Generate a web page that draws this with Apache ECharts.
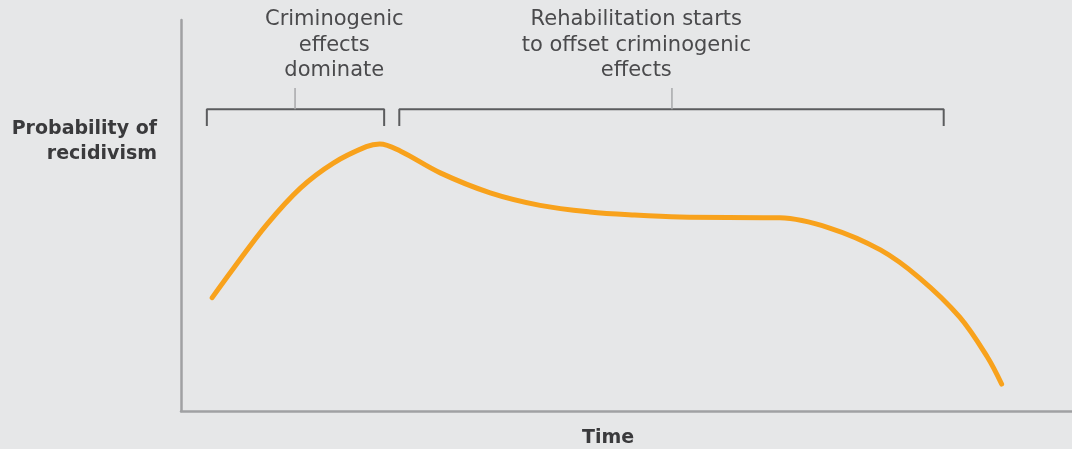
<!DOCTYPE html>
<html>
<head>
<meta charset="utf-8">
<script src="https://cdn.jsdelivr.net/npm/echarts@6/dist/echarts.min.js"></script>
<style>
html,body{margin:0;padding:0;background:#e6e7e8;}
#chart{width:1072px;height:449px;}
</style>
</head>
<body>
<div id="chart"></div>
<script>
// Curve: time (0-100) vs probability of recidivism (0-100)
const timeVals = [3.5, 5.9, 9.6, 13.4, 17.1, 20.8, 22.3, 24.6, 29.1, 34.7, 40.3, 45.9, 50.9, 56.0, 67.2, 72.8, 78.5, 82.9, 87.4, 90.5, 92.1];
const probVals = [29.0, 36.5, 47.6, 57.0, 63.4, 67.6, 68.3, 66.5, 60.9, 55.8, 52.6, 50.9, 50.1, 49.6, 49.4, 46.8, 41.2, 34.0, 24.0, 13.8, 6.9];

// Brackets (x ranges in time units) and their annotation texts
const bracketStart = [2.9, 24.5];
const bracketEnd = [22.8, 85.6];
const bracketMid = [12.8, 55.1];
const bracketLabels = ['Criminogenic\neffects\ndominate', 'Rehabilitation starts\nto offset criminogenic\neffects'];
const labelCenter = [17.2, 51.1];
const bracketTopY = 77.2;
const bracketFootY = 72.9;
const midTickTopY = 82.6;

const xAxisTitle = 'Time';
const yAxisTitle = 'Probability of\nrecidivism';

const chart = echarts.init(document.getElementById('chart'));
const curveData = timeVals.map((t, i) => [t, probVals[i]]);

const series = [{
  type: 'line',
  data: curveData,
  smooth: 0.35,
  showSymbol: false,
  silent: true,
  lineStyle: { color: '#f8a21c', width: 5, cap: 'round' },
  z: 5
}];
bracketStart.forEach((s, i) => {
  series.push({
    type: 'line',
    data: [[s, bracketFootY], [s, bracketTopY], [bracketEnd[i], bracketTopY], [bracketEnd[i], bracketFootY]],
    showSymbol: false, silent: true,
    lineStyle: { color: '#5b5c5e', width: 2 }
  });
  series.push({
    type: 'line',
    data: [[bracketMid[i], bracketTopY], [bracketMid[i], midTickTopY]],
    showSymbol: false, silent: true,
    lineStyle: { color: '#a7a8aa', width: 1.5 }
  });
});

chart.setOption({
  backgroundColor: '#e6e7e8',
  animation: false,
  grid: { left: 181, right: 0, top: 20, bottom: 38 },
  xAxis: {
    type: 'value', min: 0, max: 100,
    axisLine: { show: true, onZero: false, lineStyle: { color: '#a0a1a3', width: 2.5 } },
    axisTick: { show: false }, axisLabel: { show: false }, splitLine: { show: false }
  },
  yAxis: {
    type: 'value', min: 0, max: 100,
    axisLine: { show: true, onZero: false, lineStyle: { color: '#a0a1a3', width: 2.5 } },
    axisTick: { show: false }, axisLabel: { show: false }, splitLine: { show: false }
  },
  series: series
});

const graphics = [];
bracketLabels.forEach((txt, i) => {
  const p = chart.convertToPixel({ gridIndex: 0 }, [labelCenter[i], 0]);
  graphics.push({
    type: 'text', x: p[0], y: 7,
    style: {
      text: txt, fill: '#4a4a4c', font: '21px "DejaVu Sans"',
      align: 'center', verticalAlign: 'top', lineHeight: 25.5
    }
  });
});
graphics.push({
  type: 'text', x: 157, y: 117,
  style: { text: yAxisTitle, fill: '#3a3a3c', font: 'bold 19px "DejaVu Sans"', align: 'right', verticalAlign: 'top', lineHeight: 24.5 }
});
graphics.push({
  type: 'text', x: 608, y: 429,
  style: { text: xAxisTitle, fill: '#3a3a3c', font: 'bold 19px "DejaVu Sans"', align: 'center', verticalAlign: 'top' }
});
chart.setOption({ graphic: graphics });
</script>
</body>
</html>
